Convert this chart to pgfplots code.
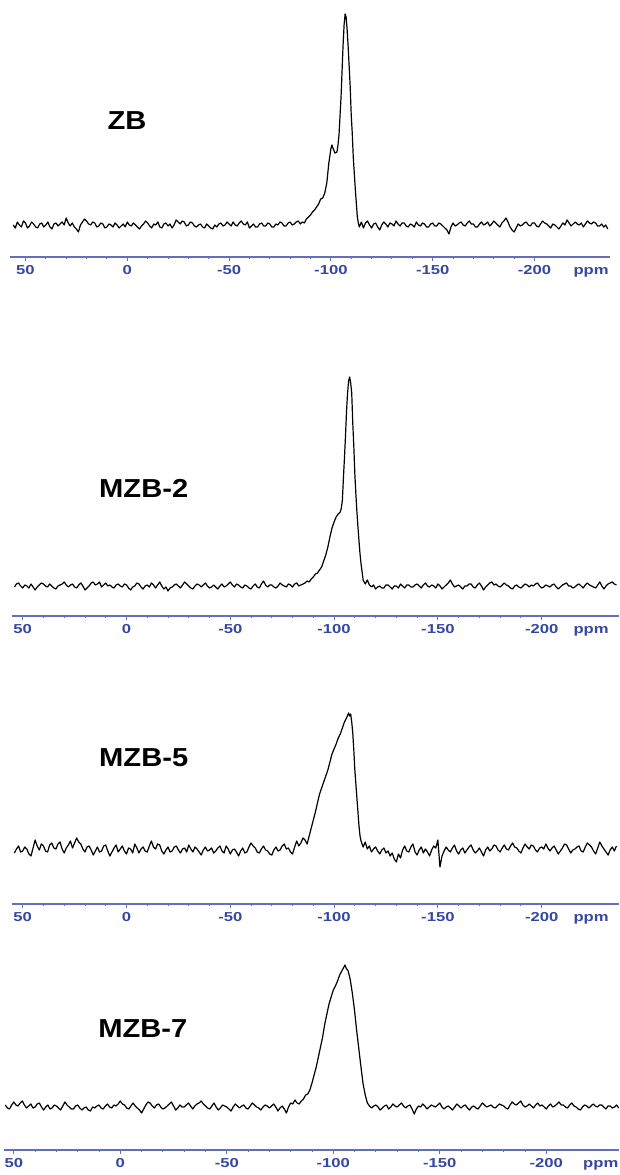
\documentclass[border=0pt]{standalone}
\usepackage{fontspec}
\setmainfont{Liberation Sans}
\newfontfamily\tickfont{Liberation Sans}[FakeStretch=1.28]
\newfontfamily\labfont{Liberation Sans}[FakeStretch=1.12]
\usepackage{pgfplots}
\pgfplotsset{compat=1.18}
\definecolor{axblue}{RGB}{100,110,190}
\definecolor{tkblue}{RGB}{55,70,160}
\pgfplotsset{nmr/.style={
  scale only axis, x dir=reverse,
  axis x line*=bottom, axis y line=none, ytick=\empty,
  xtick={50,0,-50,-100,-150,-200},
  xticklabels={50,0,-50,-100,-150,-200},
  minor x tick num=4, tick align=outside,
  major tick length=4pt, minor tick length=2.5pt,
  every tick/.style={axblue, line width=0.9pt},
  axis line style={axblue, line width=1.1pt},
  xticklabel style={font=\tickfont\bfseries\fontsize{13}{13}\selectfont, text=tkblue, inner sep=1pt, yshift=-3pt},
  typeset ticklabels with strut,
  extra x tick style={tick style={draw=none}},
  clip=false,
}, spec/.style={black, line width=1.2pt, line join=round, mark=none}}
\newcommand\lab{\labfont\bfseries\fontsize{26}{26}\selectfont}
\begin{document}
\begin{tikzpicture}
\useasboundingbox (0,0) rectangle (619pt,1175pt);
% ---------------- ZB
\begin{axis}[nmr, at={(10pt,918pt)}, anchor=south west, width=600pt, height=247pt,
  xmin=-237.1, xmax=57.6, ymin=-32, ymax=215,
  extra x ticks={-227.8}, extra x tick labels={ppm}]
\addplot[spec] coordinates {
(56,0)(55,-3)(54,3)(53,0)(52,-2)(51,4)(50,2)(49,-3)(48,-1)(47,3)(46,1)(45,-2)(44,-3)(43,1)(42,2)(41,-2)(40,0)(39,3)(38,-2)(37,-4)(36,1)(35,2)(34,-1)(33,1)(32,3)(31,0)(30,7)(29,2)(28,-1)(27,2)(26,-2)(25,-4)(24,-7)(23,0)(22,3)(21,6)(20,4)(19,1)(18,0)(17,3)(16,2)(15,-2)(14,-1)(13,2)(12,1)(11,-3)(10,-2)(9,1)(8,0)(7,-2)(6,2)(5,0)(4,-3)(3,-1)(2,1)(1,-2)(0,3)
(-1,0)(-2,-1)(-3,2)(-4,0)(-5,-2)(-6,-4)(-7,-1)(-8,1)(-9,4)(-10,2)(-11,-1)(-12,-3)(-13,1)(-14,0)(-15,3)(-16,-2)(-17,-3)(-18,1)(-19,2)(-20,-1)(-21,1)(-22,-3)(-23,0)(-24,5)(-25,3)(-26,1)(-27,4)(-28,3)(-29,-1)(-30,0)(-31,3)(-32,2)(-33,-1)(-34,-2)(-35,0)(-36,1)(-37,-2)(-38,-3)(-39,1)(-40,-1)
(-41,-3)(-42,-4)(-43,0)(-44,-2)(-45,1)(-46,2)(-47,-1)(-48,0)(-49,3)(-50,1)(-51,-1)(-52,3)(-53,0)(-54,-1)(-55,2)(-56,4)(-57,1)(-58,0)(-59,3)(-60,-3)(-61,-1)(-62,1)(-63,-2)(-64,-2)(-65,1)(-66,2)(-67,-1)(-68,-1)(-69,2)(-70,1)(-71,-2)(-72,-2)(-73,1)(-74,0)(-75,3)(-76,2)(-77,-1)(-78,-1)(-79,2)(-80,3)(-81,0)(-82,1)(-83,3)(-84,4)(-85,1)
(-86,3)(-87,2)(-88,6)(-89,8)(-90,10)(-91,13)(-92,15)(-93,18)(-94,21)(-95,26)(-96,27)(-97,32)(-98,42)(-99,62)(-100,76)(-100.5,80)(-101,77)(-102,72)(-103,73)(-103.5,80)(-104,90)(-105,128)(-106,180)(-106.5,200)(-107,211)(-107.5,208)(-108,195)(-108.5,178)(-109,158)(-109.5,138)(-110,110)(-110.5,92)(-111,68)(-111.5,52)(-112,36)(-112.5,22)(-113,8)(-113.5,2)(-114,-2)(-115,3)(-116,-3)
(-117,2)(-118,4)(-119,0)(-120,-3)(-121,1)(-122,2)(-123,-2)(-124,-5)(-125,0)(-126,3)(-127,1)(-128,-2)(-129,2)(-130,1)(-131,-1)(-132,4)(-133,1)(-134,-1)(-135,2)(-136,2)(-137,-1)(-138,-2)(-139,1)(-140,0)(-141,-2)(-142,3)(-143,0)(-144,-1)(-145,2)(-146,1)(-147,-2)(-148,-2)(-149,1)(-150,2)
(-151,-1)(-152,-1)(-153,2)(-154,1)(-155,-1)(-156,-3)(-157,-5)(-158,-9)(-159,-2)(-160,2)(-161,-1)(-162,0)(-163,2)(-164,3)(-165,0)(-166,-1)(-167,2)(-168,4)(-169,1)(-170,1)(-171,-2)(-172,-2)(-173,1)(-174,3)(-175,0)(-176,1)(-177,3)(-178,-1)(-179,1)(-180,4)(-181,2)(-182,0)(-183,-2)(-184,2)(-185,4)(-186,7)(-187,3)(-188,-2)(-189,-5)(-190,-7)(-191,-3)(-192,1)(-193,-1)
(-194,0)(-195,2)(-196,3)(-197,0)(-198,-1)(-199,2)(-200,2)(-201,-1)(-202,-2)(-203,1)(-204,4)(-205,2)(-206,1)(-207,-1)(-208,-3)(-209,1)(-210,0)(-211,-2)(-212,-4)(-213,-1)(-214,2)(-215,0)(-216,5)(-217,2)(-218,-1)(-219,1)(-220,3)(-221,1)(-222,0)(-223,2)(-224,-2)(-225,1)(-226,4)(-227,2)(-228,1)(-229,3)(-230,2)(-231,-1)(-232,-1)(-233,1)(-234,-2)(-235,0)(-236,-4)
};
\node[font=\lab] at (axis cs:0.1,104) {ZB};
\end{axis}
% ---------------- MZB-2
\begin{axis}[nmr, at={(11.9pt,559pt)}, anchor=south west, width=607pt, height=245pt,
  xmin=-237.2, xmax=55.2, ymin=-30, ymax=215,
  extra x ticks={-223.8}, extra x tick labels={ppm}]
\addplot[spec] coordinates {
(54,-1)(53,2)(52,3)(51,0)(50,-2)(49,1)(48,0)(47,-2)(46,2)(45,-1)(44,-4)(43,-1)(42,1)(41,3)(40,2)(39,0)(38,-1)(37,2)(36,0)(35,-2)(34,-3)(33,0)(32,1)(31,2)(30,4)(29,1)(28,-1)(27,1)(26,2)(25,-1)(24,-2)(23,1)(22,3)(21,0)(20,-4)(19,-2)(18,0)(17,3)(16,4)(15,1)(14,2)(13,4)(12,-1)(11,1)(10,3)(9,0)(8,1)(7,-1)(6,-2)(5,1)(4,2)(3,0)(2,-1)(1,2)(0,1)
(-1,-2)(-2,-4)(-3,-1)(-4,0)(-5,3)(-6,2)(-7,-1)(-8,-3)(-9,0)(-10,1)(-11,-1)(-12,3)(-13,1)(-14,-2)(-15,1)(-16,4)(-17,0)(-18,-3)(-19,-1)(-20,-5)(-21,-2)(-22,-1)(-23,1)(-24,2)(-25,0)(-26,-2)(-27,1)(-28,4)(-29,2)(-30,0)(-31,-2)(-32,-3)(-33,0)(-34,2)(-35,1)(-36,-1)(-37,1)(-38,3)(-39,0)(-40,-2)
(-41,-1)(-42,1)(-43,-1)(-44,-3)(-45,0)(-46,2)(-47,-1)(-48,0)(-49,2)(-50,4)(-51,1)(-52,-1)(-53,2)(-54,1)(-55,-1)(-56,-2)(-57,1)(-58,0)(-59,-2)(-60,-3)(-61,0)(-62,2)(-63,-1)(-64,-2)(-65,2)(-66,5)(-67,1)(-68,-1)(-69,1)(-70,1)(-71,-1)(-72,-2)(-73,0)(-74,3)(-75,1)(-76,0)(-77,-1)(-78,2)(-79,1)(-80,-1)(-81,2)(-82,3)(-83,0)(-84,1)(-85,2)
(-86,3)(-87,5)(-88,4)(-89,7)(-90,9)(-91,12)(-92,13)(-93,16)(-94,19)(-95,25)(-96,31)(-97,39)(-98,49)(-99,58)(-100,64)(-101,69)(-102,72)(-103,74)(-103.5,78)(-104,86)(-104.5,108)(-105,128)(-105.5,150)(-106,175)(-106.5,193)(-107,205)(-107.5,209)(-108,203)(-108.5,193)(-109,163)(-109.5,140)(-110,112)(-110.5,92)(-111,74)(-111.5,59)(-112,45)(-112.5,32)(-113,22)(-113.5,14)(-114,6)(-115,2)(-116,6)(-117,1)
(-118,-1)(-119,1)(-120,-3)(-121,-1)(-122,0)(-123,-2)(-124,-2)(-125,1)(-126,1)(-127,-1)(-128,-3)(-129,0)(-130,0)(-131,-2)(-132,2)(-133,0)(-134,-2)(-135,1)(-136,1)(-137,-1)(-138,-1)(-139,1)(-140,2)(-141,0)(-142,-2)(-143,1)(-144,3)(-145,0)(-146,-1)(-147,1)(-148,0)(-149,-2)(-150,2)
(-151,0)(-152,-3)(-153,-1)(-154,1)(-155,3)(-156,6)(-157,2)(-158,-1)(-159,0)(-160,1)(-161,-1)(-162,-3)(-163,0)(-164,0)(-165,2)(-166,2)(-167,-1)(-168,-2)(-169,1)(-170,3)(-171,0)(-172,-4)(-173,-1)(-174,1)(-175,3)(-176,4)(-177,1)(-178,2)(-179,0)(-180,-1)(-181,1)(-182,3)(-183,1)(-184,0)(-185,-2)(-186,-3)(-187,0)(-188,1)(-189,-1)(-190,-2)(-191,0)(-192,2)(-193,1)
(-194,-1)(-195,1)(-196,0)(-197,2)(-198,3)(-199,0)(-200,-2)(-201,-1)(-202,1)(-203,0)(-204,-1)(-205,1)(-206,2)(-207,-1)(-208,-3)(-209,-1)(-210,1)(-211,2)(-212,3)(-213,0)(-214,0)(-215,-2)(-216,-1)(-217,1)(-218,2)(-219,0)(-220,-2)(-221,1)(-222,3)(-223,1)(-224,0)(-225,-1)(-226,-2)(-227,1)(-228,4)(-229,0)(-230,-3)(-231,0)(-232,2)(-233,3)(-234,4)(-235,2)(-236,1)
};
\node[font=\lab] at (axis cs:-8.3,98) {MZB-2};
\end{axis}
% ---------------- MZB-5
\begin{axis}[nmr, at={(11.9pt,271pt)}, anchor=south west, width=607pt, height=199pt,
  xmin=-237.2, xmax=55.2, ymin=-54, ymax=145,
  extra x ticks={-223.8}, extra x tick labels={ppm}]
\addplot[spec] coordinates {
(54,-3)(53,1)(52,4)(51,-2)(50,-1)(49,3)(48,1)(47,-4)(46,-6)(45,2)(44,10)(43,4)(42,0)(41,6)(40,4)(39,-1)(38,-2)(37,5)(36,7)(35,2)(34,1)(33,6)(32,8)(31,1)(30,-3)(29,2)(28,5)(27,9)(26,2)(25,7)(24,12)(23,8)(22,6)(21,1)(20,-2)(19,3)(18,4)(17,0)(16,-5)(15,-1)(14,3)(13,-2)(12,-1)(11,4)(10,5)(9,-1)(8,-6)(7,-2)(6,2)(5,5)(4,-2)(3,1)(2,4)(1,-1)(0,-4)
(-1,2)(-2,1)(-3,-3)(-4,6)(-5,2)(-6,-3)(-7,1)(-8,3)(-9,-1)(-10,-2)(-11,4)(-12,9)(-13,3)(-14,1)(-15,6)(-16,5)(-17,-1)(-18,-4)(-19,0)(-20,3)(-21,-2)(-22,-1)(-23,3)(-24,4)(-25,0)(-26,-3)(-27,1)(-28,2)(-29,-2)(-30,5)(-31,1)(-32,-2)(-33,3)(-34,1)(-35,-2)(-36,-5)(-37,0)(-38,3)(-39,-1)(-40,0)
(-41,2)(-42,-3)(-43,-1)(-44,2)(-45,4)(-46,-1)(-47,-3)(-48,4)(-49,1)(-50,-4)(-51,0)(-52,1)(-53,-2)(-54,-6)(-55,-1)(-56,2)(-57,-3)(-58,-2)(-59,3)(-60,7)(-61,4)(-62,2)(-63,-2)(-64,-3)(-65,1)(-66,4)(-67,0)(-68,-1)(-69,-4)(-70,-5)(-71,0)(-72,3)(-73,-1)(-74,0)(-75,4)(-76,6)(-77,1)(-78,2)(-79,-2)(-80,-4)(-81,3)(-82,9)(-83,4)(-84,7)(-85,12)
(-86,10)(-87,6)(-88,14)(-89,22)(-90,30)(-91,38)(-92,47)(-93,56)(-94,62)(-95,68)(-96,74)(-97,80)(-98,88)(-99,96)(-100,101)(-101,106)(-102,112)(-103,116)(-104,122)(-105,128)(-106,132)(-107,137)(-107.5,134)(-108,136)(-108.5,128)(-109,117)(-109.5,100)(-110,80)(-110.5,66)(-111,52)(-111.5,38)(-112,24)(-112.5,14)(-113,9)(-114,3)(-115,8)(-116,1)(-117,4)
(-118,-2)(-119,1)(-120,3)(-121,-1)(-122,-4)(-123,0)(-124,2)(-125,-3)(-126,-1)(-127,-6)(-128,-3)(-129,-9)(-130,-12)(-131,-4)(-132,-8)(-133,0)(-134,4)(-135,-1)(-136,-2)(-137,3)(-138,6)(-139,-2)(-140,-5)(-141,0)(-142,3)(-143,-3)(-144,1)(-145,-2)(-146,-6)(-147,0)(-148,4)(-149,2)(-150,10)
(-151,-17)(-152,-6)(-153,-1)(-154,3)(-155,0)(-156,-2)(-157,2)(-158,5)(-159,-1)(-160,-4)(-161,0)(-162,2)(-163,-3)(-164,0)(-165,3)(-166,5)(-167,0)(-168,-3)(-169,-1)(-170,2)(-171,-2)(-172,-6)(-173,0)(-174,3)(-175,-1)(-176,1)(-177,5)(-178,4)(-179,0)(-180,-2)(-181,2)(-182,5)(-183,1)(-184,0)(-185,4)(-186,7)(-187,3)(-188,2)(-189,-1)(-190,-3)(-191,2)(-192,6)(-193,3)
(-194,1)(-195,5)(-196,4)(-197,0)(-198,-2)(-199,2)(-200,3)(-201,1)(-202,6)(-203,2)(-204,-1)(-205,2)(-206,4)(-207,0)(-208,-4)(-209,-1)(-210,2)(-211,6)(-212,5)(-213,1)(-214,-3)(-215,0)(-216,1)(-217,3)(-218,4)(-219,-1)(-220,-2)(-221,3)(-222,7)(-223,5)(-224,3)(-225,-1)(-226,-4)(-227,2)(-228,8)(-229,4)(-230,1)(-231,-2)(-232,-5)(-233,0)(-234,3)(-235,-1)(-236,4)
};
\node[font=\lab] at (axis cs:-8.3,92) {MZB-5};
\end{axis}
% ---------------- MZB-7
\begin{axis}[nmr, at={(4pt,25pt)}, anchor=south west, width=614.7pt, height=193pt,
  xmin=-234, xmax=54.6, ymin=-43, ymax=150,
  extra x ticks={-225.6}, extra x tick labels={ppm}]
\addplot[spec] coordinates {
(54,2)(53,-1)(52,-2)(51,2)(50,5)(49,2)(48,1)(47,4)(46,6)(45,2)(44,-1)(43,1)(42,3)(41,-1)(40,0)(39,3)(38,4)(37,0)(36,-3)(35,0)(34,2)(33,-2)(32,-1)(31,2)(30,1)(29,-1)(28,-3)(27,1)(26,5)(25,2)(24,0)(23,-2)(22,-2)(21,1)(20,2)(19,-1)(18,-3)(17,-1)(16,0)(15,-3)(14,-4)(13,0)(12,-1)(11,1)(10,2)(9,-1)(8,-2)(7,1)(6,3)(5,0)(4,-1)(3,2)(2,1)(1,3)(0,6)
(-1,3)(-2,2)(-3,-1)(-4,-2)(-5,1)(-6,4)(-7,1)(-8,-1)(-9,-3)(-10,-6)(-11,-2)(-12,2)(-13,5)(-14,4)(-15,1)(-16,-1)(-17,2)(-18,3)(-19,0)(-20,-2)(-21,-1)(-22,1)(-23,3)(-24,5)(-25,1)(-26,-3)(-27,-1)(-28,2)(-29,0)(-30,0)(-31,2)(-32,4)(-33,1)(-34,-2)(-35,1)(-36,3)(-37,4)(-38,6)(-39,3)(-40,1)
(-41,-1)(-42,-2)(-43,1)(-44,4)(-45,0)(-46,-3)(-47,-1)(-48,2)(-49,1)(-50,0)(-51,-2)(-52,-4)(-53,0)(-54,3)(-55,1)(-56,-1)(-57,1)(-58,2)(-59,-1)(-60,-2)(-61,1)(-62,4)(-63,2)(-64,0)(-65,-1)(-66,-3)(-67,0)(-68,2)(-69,1)(-70,-1)(-71,1)(-72,3)(-73,0)(-74,-4)(-75,-1)(-76,1)(-77,-2)(-78,-6)(-79,0)(-80,4)(-81,3)(-82,7)(-83,4)(-84,3)
(-85,6)(-86,8)(-87,12)(-88,13)(-89,17)(-90,24)(-91,32)(-92,40)(-93,50)(-94,60)(-95,70)(-96,83)(-97,93)(-98,103)(-99,110)(-100,117)(-101,121)(-102,126)(-103,132)(-104,136)(-105,140)(-105.5,142)(-106,139)(-107,136)(-108,127)(-109,113)(-110,96)(-111,76)(-112,58)(-113,40)(-114,23)(-115,12)(-116,4)(-117,1)
(-118,-1)(-119,1)(-120,2)(-121,0)(-122,-3)(-123,-1)(-124,1)(-125,2)(-126,-2)(-127,0)(-128,3)(-129,1)(-130,0)(-131,2)(-132,4)(-133,1)(-134,-1)(-135,1)(-136,2)(-137,-2)(-138,-7)(-139,-2)(-140,1)(-141,0)(-142,3)(-143,1)(-144,-2)(-145,0)(-146,2)(-147,1)(-148,0)(-149,2)(-150,4)
(-151,0)(-152,-2)(-153,0)(-154,1)(-155,-1)(-156,-3)(-157,0)(-158,3)(-159,1)(-160,-1)(-161,1)(-162,2)(-163,-1)(-164,-3)(-165,0)(-166,1)(-167,-1)(-168,-2)(-169,1)(-170,4)(-171,2)(-172,0)(-173,1)(-174,2)(-175,0)(-176,-1)(-177,1)(-178,3)(-179,2)(-180,1)(-181,-1)(-182,-2)(-183,2)(-184,5)(-185,3)(-186,2)(-187,4)(-188,6)(-189,2)(-190,0)(-191,1)(-192,3)(-193,1)
(-194,-1)(-195,2)(-196,4)(-197,1)(-198,2)(-199,0)(-200,-2)(-201,1)(-202,3)(-203,0)(-204,1)(-205,3)(-206,5)(-207,2)(-208,2)(-209,0)(-210,-1)(-211,2)(-212,4)(-213,1)(-214,0)(-215,-2)(-216,-3)(-217,0)(-218,2)(-219,1)(-220,-1)(-221,1)(-222,3)(-223,1)(-224,0)(-225,2)(-226,2)(-227,0)(-228,-2)(-229,1)(-230,1)(-231,-1)(-232,0)(-233,2)(-234,-1)
};
\node[font=\lab] at (axis cs:-10.6,78) {MZB-7};
\end{axis}
\end{tikzpicture}
\end{document}
